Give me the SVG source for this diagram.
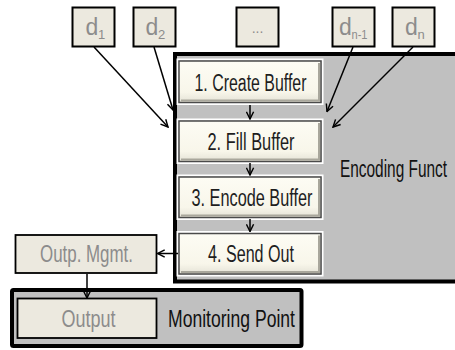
<svg xmlns="http://www.w3.org/2000/svg" width="455" height="350" viewBox="0 0 455 350">
  <style>
    .data rect { fill: #ECE9DF; stroke: #000; stroke-width: 2; }
    .data text { font-family: "Liberation Sans", Arial, sans-serif; fill: #8C8C8C; }
    .step .halo { fill: none; stroke: #FFFFFF; stroke-width: 2; }
    .step .body { fill: url(#stepFill); stroke: #4A4A4A; stroke-width: 1.5; }
    .step .shade { fill: none; stroke: #A9A79C; stroke-width: 2; }
    .step text { font-family: "Liberation Sans", Arial, sans-serif; font-size: 23px; fill: #1E1E1E; text-anchor: middle; }
    .label { font-family: "Liberation Sans", Arial, sans-serif; font-size: 23px; fill: #111; }
    .grey { font-family: "Liberation Sans", Arial, sans-serif; font-size: 23px; fill: #8C8C8C; text-anchor: middle; }
    .container { fill: #C0C0C0; stroke: #000; stroke-width: 4; }
    .plain { fill: #ECE9DF; stroke: #000; stroke-width: 1.8; }
    .conn line { stroke: #000; stroke-width: 1.5; marker-end: url(#arrow); }
  </style>
  <defs>
    <linearGradient id="stepFill" x1="0" y1="0" x2="0" y2="1">
      <stop offset="0" stop-color="#FDFCF4"/>
      <stop offset="0.75" stop-color="#F8F6EA"/>
      <stop offset="1" stop-color="#E4E2D6"/>
    </linearGradient>
    <marker id="arrow" viewBox="0 0 10 10" refX="9" refY="5" markerWidth="9" markerHeight="9" markerUnits="userSpaceOnUse" orient="auto">
      <path d="M1,1 L9,5 L1,9" fill="none" stroke="#000" stroke-width="1.6"/>
    </marker>
  </defs>

  <rect width="455" height="350" fill="#FFFFFF"/>

  <!-- encoding function container -->
  <g id="encoding-function">
    <rect class="container" x="175" y="54" width="300" height="227.5"/>
    <text class="label" x="340" y="177" textLength="107" lengthAdjust="spacingAndGlyphs">Encoding Funct</text>
  </g>

  <!-- monitoring point container -->
  <g id="monitoring-point">
    <rect class="container" x="12" y="290" width="289.5" height="56" rx="1.5"/>
    <text class="label" x="168" y="327" textLength="127" lengthAdjust="spacingAndGlyphs">Monitoring Point</text>
  </g>

  <!-- data inputs -->
  <g id="d1" class="data">
    <rect x="72.5" y="7.5" width="42" height="39"/>
    <text x="85.5" y="35" font-size="23">d</text>
    <text x="98" y="39" font-size="13">1</text>
  </g>
  <g id="d2" class="data">
    <rect x="133.5" y="7.5" width="42" height="39"/>
    <text x="145.5" y="35" font-size="23">d</text>
    <text x="158" y="39" font-size="13">2</text>
  </g>
  <g id="dots" class="data">
    <rect x="236.5" y="7.5" width="42" height="39"/>
    <text x="257.5" y="33" font-size="14" text-anchor="middle">...</text>
  </g>
  <g id="dn-1" class="data">
    <rect x="332.5" y="7.5" width="42" height="39"/>
    <text x="339" y="35" font-size="23">d</text>
    <text x="351.5" y="39" font-size="13" textLength="16" lengthAdjust="spacingAndGlyphs">n-1</text>
  </g>
  <g id="dn" class="data">
    <rect x="392.5" y="7.5" width="42" height="39"/>
    <text x="405" y="35" font-size="23">d</text>
    <text x="417.5" y="39" font-size="13">n</text>
  </g>

  <!-- processing steps -->
  <g id="step1" class="step">
    <rect class="halo" x="177.5" y="59.5" width="145" height="44.5"/>
    <rect class="body" x="179" y="61" width="142" height="41.5"/>
    <path class="shade" d="M181,100.5 H319 V63"/>
    <text x="250.5" y="90.5" textLength="112" lengthAdjust="spacingAndGlyphs">1. Create Buffer</text>
  </g>
  <g id="step2" class="step">
    <rect class="halo" x="177.5" y="119.5" width="145" height="43.5"/>
    <rect class="body" x="179" y="121" width="142" height="40.5"/>
    <path class="shade" d="M181,159.5 H319 V123"/>
    <text x="251" y="149.5" textLength="87" lengthAdjust="spacingAndGlyphs">2. Fill Buffer</text>
  </g>
  <g id="step3" class="step">
    <rect class="halo" x="177.5" y="175.5" width="145" height="43.5"/>
    <rect class="body" x="179" y="177" width="142" height="40.5"/>
    <path class="shade" d="M181,215.5 H319 V179"/>
    <text x="252" y="205.5" textLength="121" lengthAdjust="spacingAndGlyphs">3. Encode Buffer</text>
  </g>
  <g id="step4" class="step">
    <rect class="halo" x="177.5" y="232" width="145" height="43.5"/>
    <rect class="body" x="179" y="233.5" width="142" height="40.5"/>
    <path class="shade" d="M181,272 H319 V235.5"/>
    <text x="251" y="262" textLength="86" lengthAdjust="spacingAndGlyphs">4. Send Out</text>
  </g>

  <!-- output management and output -->
  <g id="outp-mgmt">
    <rect class="plain" x="15.5" y="235" width="141" height="38" stroke-width="2"/>
    <text class="grey" x="86.5" y="262" textLength="93" lengthAdjust="spacingAndGlyphs">Outp. Mgmt.</text>
  </g>
  <g id="output">
    <rect class="plain" x="17.5" y="298.5" width="139" height="39.5"/>
    <text class="grey" x="88.5" y="327" textLength="54" lengthAdjust="spacingAndGlyphs">Output</text>
  </g>

  <!-- connectors -->
  <g id="connectors" class="conn">
    <line x1="94" y1="47" x2="168" y2="127"/>
    <line x1="154" y1="47" x2="173" y2="110"/>
    <line x1="353" y1="47" x2="327" y2="111.5"/>
    <line x1="413" y1="47" x2="333" y2="127"/>
    <line x1="250" y1="105" x2="250" y2="119"/>
    <line x1="250" y1="163" x2="250" y2="175"/>
    <line x1="250" y1="219" x2="250" y2="231.5"/>
    <line x1="178" y1="253.5" x2="157.5" y2="253.5"/>
    <line x1="87" y1="274" x2="87" y2="298"/>
  </g>
</svg>
